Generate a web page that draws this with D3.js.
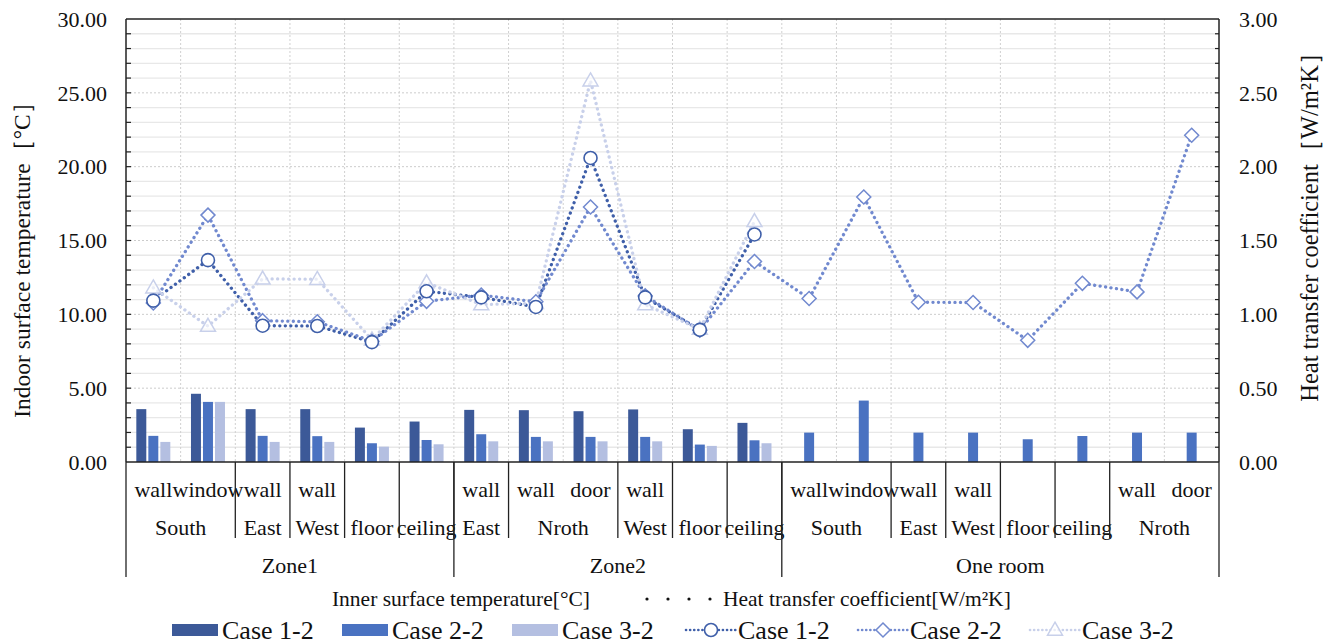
<!DOCTYPE html>
<html><head><meta charset="utf-8">
<script src="https://cdn.jsdelivr.net/npm/d3@7"></script>
<style>
html,body{margin:0;padding:0;background:#fff;}
</style></head>
<body><svg id="c" width="1335" height="644"></svg>
<script>
// ---------- data ----------
const parts = ["wall","window","wall","wall","","","wall","wall","door","wall","","","wall","window","wall","wall","","","wall","door"];
const sideNames = ["South","East","West","floor","ceiling","East","Nroth","West","floor","ceiling","South","East","West","floor","ceiling","Nroth"];
const sideSizes = [2,1,1,1,1,1,2,1,1,1,2,1,1,1,1,2];
const zoneNames = ["Zone1","Zone2","One room"];
const zoneSizes = [6,6,8];
const seriesNames = ["Case 1-2","Case 2-2","Case 3-2"];
// Inner surface temperature [°C] (bars, left axis)
const barCase1 = [3.58,4.62,3.58,3.58,2.33,2.74,3.53,3.51,3.44,3.56,2.22,2.65];
const barCase2 = [1.77,4.07,1.77,1.75,1.27,1.49,1.88,1.70,1.70,1.70,1.18,1.47,1.99,4.16,1.99,1.99,1.54,1.76,1.99,1.99];
const barCase3 = [1.36,4.07,1.36,1.36,1.04,1.20,1.40,1.40,1.40,1.40,1.09,1.27];
// Heat transfer coefficient [W/m²K] (lines, right axis)
const lineCase1 = [1.093,1.367,0.923,0.921,0.812,1.156,1.115,1.050,2.059,1.115,0.895,1.541];
const lineCase2 = [1.077,1.672,0.957,0.950,0.818,1.088,1.130,1.085,1.727,1.125,0.892,1.358,1.107,1.795,1.082,1.080,0.824,1.210,1.152,2.213];
const lineCase3 = [1.180,0.920,1.240,1.238,0.828,1.215,1.066,1.075,2.582,1.066,0.900,1.630];
const leftTicks = [0,5,10,15,20,25,30];
const rightTicks = [0,0.5,1,1.5,2,2.5,3];

// ---------- layout ----------
const L = 126, R = 1219, T = 19, B = 462;
const barColors = ["#3c5998","#4a72c1","#b4bfe1"];
const lineColors = ["#3f5fa9","#7189cf","#c8d0ea"];
const svg = d3.select("#c");

const idx = d3.range(parts.length);
const x = d3.scaleBand().domain(idx).range([L, R]).padding(0);
const xs = d3.scaleBand().domain([0,1,2]).range([-17,17]).paddingInner(0.17);
const yL = d3.scaleLinear().domain([0,30]).range([B,T]);
const yR = d3.scaleLinear().domain([0,3]).range([B,T]);
const step = x.step();

// gridlines
const g = svg.append("g");
d3.range(1,30).filter(v=>v%5!==0).forEach(v=>{
  g.append("line").attr("x1",L).attr("x2",R).attr("y1",yL(v)).attr("y2",yL(v))
   .attr("stroke","#e8e8e8").attr("stroke-width",1.3);
});
leftTicks.filter(v=>v>0&&v<30).forEach(v=>{
  g.append("line").attr("x1",L).attr("x2",R).attr("y1",yL(v)).attr("y2",yL(v))
   .attr("stroke","#cccccc").attr("stroke-width",1).attr("stroke-dasharray","2 2");
});
d3.range(1,parts.length).forEach(i=>{
  const xx = L + i*step;
  g.append("line").attr("x1",xx).attr("x2",xx).attr("y1",T).attr("y2",B)
   .attr("stroke","#d0d0d0").attr("stroke-width",1).attr("stroke-dasharray","2 2");
});

// bars
const barSets = [barCase1, barCase2, barCase3];
barSets.forEach((arr,s)=>{
  svg.append("g").selectAll("rect").data(arr).join("rect")
    .attr("x",(d,i)=>x(i)+step/2+xs(s))
    .attr("width",xs.bandwidth())
    .attr("y",d=>yL(d))
    .attr("height",d=>B-yL(d))
    .attr("fill",barColors[s]);
});

// lines
const lineSets = [lineCase1, lineCase2, lineCase3];
const lineGen = d3.line().x((d,i)=>x(i)+step/2).y(d=>yR(d));
lineSets.forEach((arr,s)=>{
  svg.append("path").datum(arr).attr("d",lineGen)
    .attr("fill","none").attr("stroke",lineColors[s]).attr("stroke-width",3.3)
    .attr("stroke-linecap","round").attr("stroke-dasharray","0.1 5.4");
});
function marker(sel, s, cx, cy){
  if(s===0){
    sel.append("circle").attr("cx",cx).attr("cy",cy).attr("r",6.5)
      .attr("fill","#fff").attr("stroke",lineColors[0]).attr("stroke-width",1.6);
  } else if(s===1){
    const r=7;
    sel.append("path").attr("d",`M${cx},${cy-r}L${cx+r},${cy}L${cx},${cy+r}L${cx-r},${cy}Z`)
      .attr("fill","#fff").attr("stroke",lineColors[1]).attr("stroke-width",1.5);
  } else {
    const h=13, w=15;
    sel.append("path").attr("d",`M${cx},${cy-h*0.6}L${cx+w/2},${cy+h*0.4}L${cx-w/2},${cy+h*0.4}Z`)
      .attr("fill","#fff").attr("fill-opacity",0.6).attr("stroke",lineColors[2]).attr("stroke-width",1.5);
  }
}
[2,1,0].forEach(s=>{
  const gm = svg.append("g");
  lineSets[s].forEach((d,i)=>marker(gm,s,x(i)+step/2,yR(d)));
});

// frame and axes
const ax = svg.append("g").attr("stroke","#222").attr("stroke-width",1.5);
ax.append("line").attr("x1",L).attr("x2",R).attr("y1",T).attr("y2",T);
ax.append("line").attr("x1",L).attr("x2",R).attr("y1",B).attr("y2",B);
ax.append("line").attr("x1",L).attr("x2",L).attr("y1",T).attr("y2",B);
ax.append("line").attr("x1",R).attr("x2",R).attr("y1",T).attr("y2",B);
d3.range(1,30).forEach(v=>{
  ax.append("line").attr("x1",L).attr("x2",L+5).attr("y1",yL(v)).attr("y2",yL(v)).attr("stroke-width",1.2);
  ax.append("line").attr("x1",R-4).attr("x2",R).attr("y1",yL(v)).attr("y2",yL(v)).attr("stroke-width",1.2);
});
const fs = 22;
svg.append("g").selectAll("text").data(leftTicks).join("text")
  .attr("x",107).attr("y",d=>yL(d)).attr("dy","0.35em").attr("text-anchor","end")
  .attr("font-size",fs).text(d=>d3.format(".2f")(d));
svg.append("g").selectAll("text").data(rightTicks).join("text")
  .attr("x",1239).attr("y",d=>yR(d)).attr("dy","0.35em").attr("text-anchor","start")
  .attr("font-size",fs).text(d=>d3.format(".2f")(d));
svg.append("text").attr("transform","translate(22,254) rotate(-90)").attr("dy","0.35em")
  .attr("text-anchor","middle").attr("font-size",23.5).text("Indoor surface temperature［°C］");
svg.append("text").attr("transform","translate(1309,221) rotate(-90)").attr("dy","0.35em")
  .attr("text-anchor","middle").attr("font-size",24.5).text("Heat transfer coefficient［W/m²K］");

// category axis
const cat = svg.append("g");
cat.selectAll("text").data(parts).join("text")
  .attr("x",(d,i)=>x(i)+step/2).attr("y",489).attr("dy","0.35em").attr("text-anchor","middle")
  .attr("font-size",fs).text(d=>d);
let acc = 0;
sideNames.forEach((n,k)=>{
  const x0 = L+acc*step, x1 = L+(acc+sideSizes[k])*step;
  cat.append("text").attr("x",(x0+x1)/2).attr("y",527).attr("dy","0.35em").attr("text-anchor","middle")
    .attr("font-size",fs).text(n);
  if(acc>0) cat.append("line").attr("x1",x0).attr("x2",x0).attr("y1",B).attr("y2",538).attr("stroke","#222").attr("stroke-width",1.3);
  acc += sideSizes[k];
});
acc = 0;
zoneNames.forEach((n,k)=>{
  const x0 = L+acc*step, x1 = L+(acc+zoneSizes[k])*step;
  cat.append("text").attr("x",(x0+x1)/2).attr("y",565).attr("dy","0.35em").attr("text-anchor","middle")
    .attr("font-size",fs).text(n);
  cat.append("line").attr("x1",x0).attr("x2",x0).attr("y1",B).attr("y2",577).attr("stroke","#222").attr("stroke-width",1.3);
  acc += zoneSizes[k];
});
cat.append("line").attr("x1",R).attr("x2",R).attr("y1",B).attr("y2",577).attr("stroke","#222").attr("stroke-width",1.3);

// legend
const lg = svg.append("g");
lg.append("text").attr("x",461).attr("y",598).attr("dy","0.35em").attr("text-anchor","middle")
  .attr("font-size",21.5).text("Inner surface temperature[°C]");
[647,668,689,710].forEach(cx=>lg.append("circle").attr("cx",cx).attr("cy",599).attr("r",1.6).attr("fill","#111"));
lg.append("text").attr("x",723).attr("y",598).attr("dy","0.35em").attr("font-size",21.5)
  .text("Heat transfer coefficient[W/m²K]");
const barLegX = [172,342,512];
seriesNames.forEach((n,s)=>{
  lg.append("rect").attr("x",barLegX[s]).attr("y",624).attr("width",46).attr("height",12).attr("fill",barColors[s]);
  lg.append("text").attr("x",barLegX[s]+50).attr("y",630).attr("dy","0.35em").attr("font-size",26).text(n);
});
const lineLegX = [686,858,1030];
seriesNames.forEach((n,s)=>{
  const x0=lineLegX[s];
  lg.append("line").attr("x1",x0).attr("x2",x0+50).attr("y1",630).attr("y2",630)
    .attr("stroke",lineColors[s]).attr("stroke-width",2.6).attr("stroke-linecap","round").attr("stroke-dasharray","0.1 4");
  marker(lg,s,x0+25,630);
  lg.append("text").attr("x",x0+52).attr("y",630).attr("dy","0.35em").attr("font-size",26).text(n);
});

svg.selectAll("text").attr("font-family","'Liberation Serif'").attr("fill","#111");
</script></body></html>
